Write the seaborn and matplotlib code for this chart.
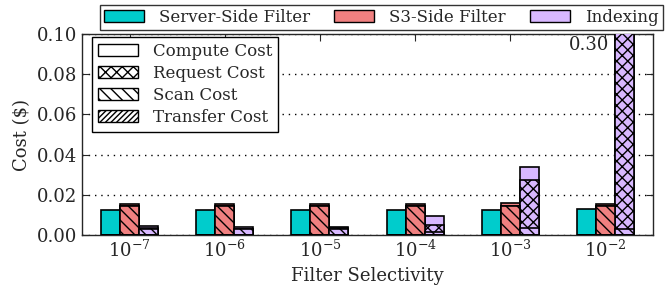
import numpy as np
import pandas as pd
import seaborn as sns
import matplotlib.pyplot as plt
from matplotlib.patches import Patch

# x categories
selectivity = ['1e-7', '1e-6', '1e-5', '1e-4', '1e-3', '1e-2']
tick_labels = [r'$10^{-7}$', r'$10^{-6}$', r'$10^{-5}$', r'$10^{-4}$', r'$10^{-3}$', r'$10^{-2}$']
methods = ['Server-Side Filter', 'S3-Side Filter', 'Indexing']
method_colors = ['#00cccc', '#f08080', '#d8b8ff']

# cost components ($), per method
server_transfer = [0.0, 0.0, 0.0, 0.0, 0.0, 0.0]
server_scan = [0.0, 0.0, 0.0, 0.0, 0.0, 0.0]
server_request = [0.0, 0.0, 0.0, 0.0, 0.0, 0.0]
server_compute = [0.0124, 0.0127, 0.0127, 0.0125, 0.0125, 0.0129]

s3_transfer = [0.0, 0.0, 0.0, 0.0, 0.0, 0.0]
s3_scan = [0.0144, 0.0144, 0.0143, 0.0143, 0.0146, 0.0143]
s3_request = [0.0, 0.0, 0.0, 0.0, 0.0, 0.0]
s3_compute = [0.0012, 0.0012, 0.0012, 0.0012, 0.0012, 0.0012]

idx_transfer = [0.0, 0.0, 0.0, 0.0, 0.0, 0.0]
idx_scan = [0.0030, 0.0028, 0.0030, 0.0015, 0.0033, 0.0030]
idx_request = [0.0003, 0.0002, 0.0004, 0.0035, 0.0240, 0.2900]
idx_compute = [0.0013, 0.0008, 0.0008, 0.0045, 0.0065, 0.0070]

components = ['Transfer Cost', 'Scan Cost', 'Request Cost', 'Compute Cost']
hatches = {'Compute Cost': '', 'Request Cost': 'xxx', 'Scan Cost': '\\\\\\', 'Transfer Cost': '//////'}

rows = []
for m, parts in zip(methods, [
        (server_transfer, server_scan, server_request, server_compute),
        (s3_transfer, s3_scan, s3_request, s3_compute),
        (idx_transfer, idx_scan, idx_request, idx_compute)]):
    for i, s in enumerate(selectivity):
        row = {'selectivity': s, 'method': m}
        for c, vals in zip(components, parts):
            row[c] = vals[i]
        rows.append(row)
df = pd.DataFrame(rows)
# cumulative heights, bottom to top
df[components] = df[components].cumsum(axis=1)

sns.set_style('ticks')
plt.rcParams['font.family'] = ['DejaVu Serif']
plt.rcParams['mathtext.fontset'] = 'dejavuserif'
plt.rcParams['hatch.linewidth'] = 1.0

fig, ax = plt.subplots(figsize=(6.67, 2.85), dpi=100)
fig.subplots_adjust(left=0.123, right=0.979, top=0.881, bottom=0.175)

# draw the tallest cumulative layer first, lower layers on top of it
for comp in components[::-1]:
    sns.barplot(data=df, x='selectivity', y=comp, hue='method', order=selectivity,
                hue_order=methods, palette=method_colors, width=0.6, dodge=True,
                saturation=1, edgecolor='black', linewidth=1.2, hatch=hatches[comp],
                legend=False, ax=ax, zorder=3)

ax.set_ylim(0, 0.10)
ax.set_xlim(-0.5, 5.5)
ax.set_yticks(np.arange(0, 0.101, 0.02))
ax.set_yticklabels([f'{v:.2f}' for v in np.arange(0, 0.101, 0.02)])
ax.set_xticks(range(len(selectivity)))
ax.set_xticklabels(tick_labels)
ax.tick_params(direction='in', top=True, right=True, labelsize=13, length=5)
ax.yaxis.grid(True, linestyle=(0, (1, 3.5)), color='black', linewidth=1, zorder=0)
ax.set_axisbelow(True)
ax.set_xlabel('Filter Selectivity', fontsize=13)
ax.set_ylabel('Cost ($)', fontsize=13)
for sp in ax.spines.values():
    sp.set_linewidth(1.0)

# label for the clipped bar
ax.text(5.04, 0.0945, '0.30', ha='right', va='center', fontsize=13)

method_handles = [Patch(facecolor=c, edgecolor='black', label=m) for m, c in zip(methods, method_colors)]
leg1 = ax.legend(handles=method_handles, loc='lower left', bbox_to_anchor=(0.032, 1.02, 0.985, 0.1),
                 mode='expand', ncol=3, fontsize=12, frameon=True, fancybox=False,
                 edgecolor='black', borderaxespad=0, handlelength=2.4, borderpad=0.25,
                 handletextpad=0.9)
leg1.get_frame().set_linewidth(1.0)
ax.add_artist(leg1)

cost_handles = [Patch(facecolor='white', edgecolor='black', hatch=hatches[c], label=c)
                for c in ['Compute Cost', 'Request Cost', 'Scan Cost', 'Transfer Cost']]
leg2 = ax.legend(handles=cost_handles, loc='upper left', bbox_to_anchor=(0.017, 0.985),
                 fontsize=12, frameon=True, fancybox=False, framealpha=1,
                 edgecolor='black', borderaxespad=0, handlelength=2.4, labelspacing=0.3,
                 borderpad=0.35, handletextpad=0.9)
leg2.get_frame().set_linewidth(1.0)

fig.savefig('out.png', dpi=100)
